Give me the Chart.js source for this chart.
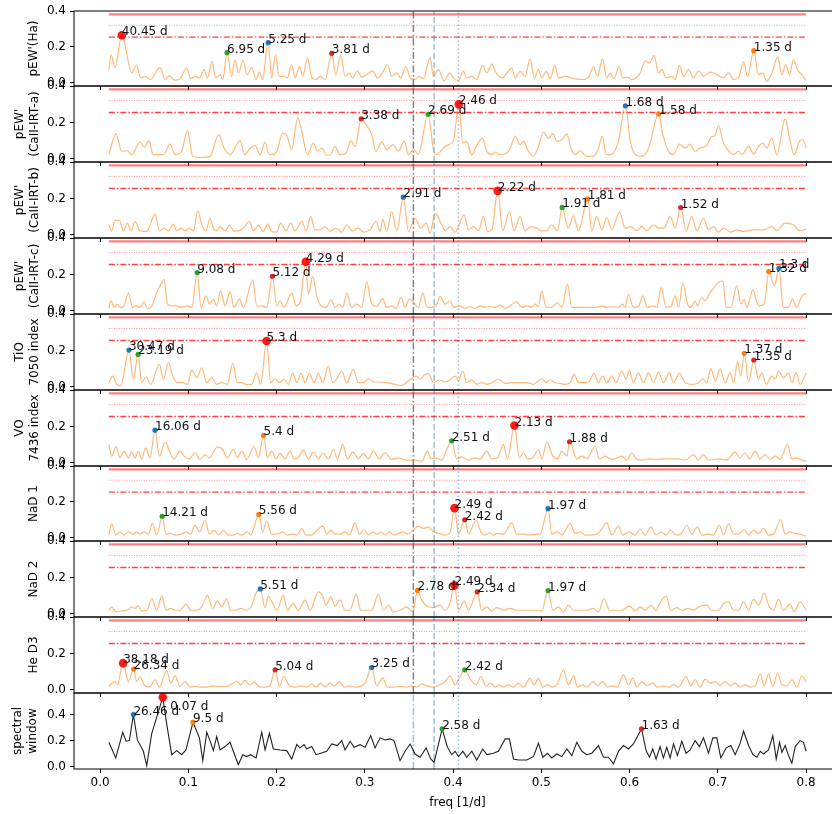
<!DOCTYPE html>
<html>
<head>
<meta charset="utf-8">
<script src="https://cdn.jsdelivr.net/npm/chart.js@4.4.1/dist/chart.umd.min.js"></script>
<style>
html, body { margin: 0; padding: 0; background: #fff; overflow: hidden; }
#fig { position: relative; width: 832px; height: 814px; overflow: hidden; }
#fig canvas { position: absolute; left: 0; }
</style>
</head>
<body>
<div id="fig"></div>
<script>
// periodograms, [freq (1/d), power]
const haPower = [[0.01,0.072],[0.0125,0.155],[0.017,0.085],[0.0247,0.266],[0.036,0.054],[0.0415,0.1],[0.046,0.026],[0.051,0.035],[0.057,0.017],[0.068,0.085],[0.0737,0.017],[0.0786,0.039],[0.084,0.013],[0.0906,0.02],[0.098,0.081],[0.103,0.022],[0.1076,0.035],[0.1126,0.026],[0.118,0.072],[0.1216,0.026],[0.127,0.118],[0.131,0.026],[0.136,0.044],[0.139,0.017],[0.1439,0.168],[0.149,0.035],[0.153,0.127],[0.1567,0.054],[0.162,0.122],[0.167,0.044],[0.172,0.085],[0.1768,0.017],[0.1805,0.059],[0.184,0.017],[0.1905,0.224],[0.1945,0.026],[0.1987,0.155],[0.203,0.035],[0.2077,0.035],[0.212,0.026],[0.217,0.1],[0.221,0.026],[0.226,0.09],[0.2297,0.035],[0.235,0.137],[0.24,0.026],[0.2448,0.017],[0.25,0.035],[0.255,0.017],[0.2625,0.164],[0.267,0.044],[0.2727,0.155],[0.2776,0.035],[0.2825,0.054],[0.2863,0.026],[0.2916,0.066],[0.2965,0.03],[0.302,0.044],[0.309,0.066],[0.314,0.026],[0.32,0.054],[0.3256,0.1],[0.3305,0.035],[0.336,0.054],[0.3407,0.026],[0.3464,0.09],[0.352,0.022],[0.357,0.017],[0.3618,0.035],[0.3664,0.022],[0.374,0.14],[0.3777,0.035],[0.3834,0.072],[0.3898,0.009],[0.396,0.054],[0.4004,0.026],[0.406,0.011],[0.4117,0.063],[0.4155,0.026],[0.421,0.035],[0.4266,0.017],[0.4336,0.096],[0.4382,0.054],[0.444,0.103],[0.4478,0.063],[0.4515,0.035],[0.4563,0.026],[0.461,0.054],[0.4668,0.081],[0.4702,0.026],[0.476,0.063],[0.4816,0.035],[0.4872,0.133],[0.4922,0.026],[0.4967,0.072],[0.5005,0.026],[0.5054,0.063],[0.5102,0.022],[0.515,0.096],[0.5196,0.026],[0.5272,0.035],[0.5363,0.022],[0.5477,0.017],[0.554,0.035],[0.5591,0.09],[0.5636,0.035],[0.5692,0.133],[0.5741,0.026],[0.5779,0.054],[0.5824,0.022],[0.5881,0.09],[0.5922,0.026],[0.5975,0.03],[0.6025,0.017],[0.612,0.054],[0.6176,0.122],[0.6225,0.109],[0.6278,0.151],[0.6327,0.054],[0.6365,0.072],[0.6414,0.026],[0.6478,0.035],[0.6516,0.017],[0.6565,0.096],[0.6611,0.035],[0.6667,0.072],[0.6724,0.026],[0.6781,0.066],[0.6838,0.035],[0.6913,0.059],[0.6989,0.044],[0.7064,0.026],[0.7121,0.054],[0.7178,0.017],[0.7234,0.026],[0.7291,0.118],[0.7336,0.035],[0.7407,0.179],[0.7459,0.044],[0.7509,0.054],[0.7554,0.007],[0.761,0.05],[0.7679,0.146],[0.7724,0.044],[0.777,0.1],[0.7811,0.044],[0.7856,0.127],[0.7902,0.072],[0.795,0.044],[0.8,0.011]];
const irtAPower = [[0.01,0.021],[0.018,0.136],[0.0246,0.04],[0.031,0.043],[0.036,0.021],[0.0453,0.091],[0.05,0.062],[0.0555,0.099],[0.06,0.021],[0.066,0.021],[0.0718,0.021],[0.0793,0.08],[0.085,0.021],[0.0925,0.04],[0.099,0.156],[0.105,0.012],[0.1133,0.006],[0.1246,0.012],[0.1345,0.132],[0.1405,0.058],[0.1473,0.021],[0.1586,0.099],[0.164,0.021],[0.17,0.058],[0.1756,0.073],[0.1813,0.021],[0.187,0.091],[0.1907,0.03],[0.1945,0.021],[0.2,0.035],[0.207,0.141],[0.2115,0.128],[0.217,0.049],[0.224,0.224],[0.2285,0.15],[0.235,0.021],[0.2417,0.086],[0.2463,0.04],[0.2512,0.058],[0.256,0.021],[0.2606,0.018],[0.2663,0.067],[0.272,0.021],[0.2787,0.03],[0.284,0.099],[0.289,0.067],[0.2959,0.22],[0.3014,0.187],[0.3078,0.132],[0.3127,0.04],[0.3192,0.091],[0.3248,0.049],[0.3316,0.077],[0.338,0.04],[0.3449,0.095],[0.3494,0.021],[0.355,0.049],[0.3607,0.025],[0.3717,0.245],[0.3777,0.049],[0.3815,0.021],[0.389,0.058],[0.3947,0.077],[0.4004,0.099],[0.4065,0.3],[0.411,0.086],[0.4155,0.095],[0.421,0.021],[0.4274,0.077],[0.4332,0.113],[0.4382,0.04],[0.444,0.021],[0.4478,0.036],[0.4525,0.021],[0.461,0.03],[0.4649,0.058],[0.4702,0.123],[0.476,0.077],[0.4797,0.095],[0.4853,0.04],[0.491,0.012],[0.4967,0.067],[0.5023,0.147],[0.508,0.113],[0.5131,0.136],[0.5175,0.095],[0.5232,0.104],[0.5289,0.136],[0.5334,0.058],[0.5383,0.021],[0.544,0.043],[0.5515,0.012],[0.5591,0.012],[0.5647,0.058],[0.5692,0.123],[0.5734,0.021],[0.5787,0.021],[0.5873,0.095],[0.5952,0.292],[0.6008,0.095],[0.6065,0.021],[0.6141,0.012],[0.6216,0.058],[0.6329,0.247],[0.6376,0.132],[0.6441,0.04],[0.6497,0.021],[0.6565,0.08],[0.663,0.058],[0.6686,0.08],[0.6742,0.04],[0.6799,0.058],[0.6875,0.073],[0.6931,0.123],[0.6962,0.123],[0.7006,0.183],[0.7064,0.086],[0.7121,0.043],[0.7178,0.021],[0.7234,0.04],[0.7272,0.021],[0.7348,0.067],[0.7404,0.025],[0.7461,0.067],[0.7509,0.086],[0.7554,0.058],[0.7611,0.113],[0.7668,0.021],[0.7762,0.22],[0.7819,0.095],[0.7864,0.021],[0.7924,0.095],[0.7962,0.104],[0.8,0.058]];
const irtBPower = [[0.01,0.054],[0.0132,0.02],[0.017,0.078],[0.0219,0.078],[0.0264,0.02],[0.031,0.063],[0.0351,0.02],[0.0397,0.072],[0.0453,0.02],[0.0529,0.017],[0.0623,0.113],[0.0672,0.02],[0.0729,0.035],[0.0774,0.02],[0.0831,0.057],[0.0869,0.02],[0.0925,0.035],[0.0963,0.02],[0.1012,0.035],[0.1058,0.02],[0.1107,0.131],[0.1152,0.054],[0.1201,0.02],[0.1246,0.09],[0.1284,0.035],[0.1322,0.02],[0.136,0.044],[0.1416,0.02],[0.1466,0.05],[0.1518,0.02],[0.157,0.02],[0.1624,0.035],[0.1692,0.072],[0.1737,0.02],[0.1794,0.05],[0.1851,0.017],[0.19,0.057],[0.1945,0.017],[0.2,0.013],[0.2047,0.063],[0.2108,0.02],[0.216,0.063],[0.221,0.02],[0.2285,0.072],[0.2334,0.02],[0.2387,0.1],[0.2436,0.026],[0.2493,0.026],[0.255,0.044],[0.2606,0.017],[0.2674,0.035],[0.2738,0.013],[0.2795,0.054],[0.2863,0.02],[0.2927,0.035],[0.2984,0.013],[0.306,0.026],[0.3127,0.072],[0.3173,0.017],[0.3203,0.087],[0.3248,0.017],[0.3305,0.127],[0.3362,0.02],[0.3436,0.207],[0.3494,0.017],[0.3569,0.09],[0.3633,0.035],[0.3694,0.063],[0.374,0.007],[0.3796,0.118],[0.3872,0.054],[0.391,0.02],[0.3966,0.044],[0.4023,0.013],[0.4125,0.109],[0.4174,0.026],[0.4231,0.044],[0.4287,0.02],[0.4344,0.1],[0.439,0.017],[0.444,0.026],[0.4505,0.242],[0.4563,0.02],[0.4638,0.127],[0.4691,0.02],[0.4759,0.1],[0.4816,0.02],[0.488,0.044],[0.4948,0.035],[0.5005,0.02],[0.5062,0.02],[0.5118,0.054],[0.5182,0.02],[0.5236,0.15],[0.5306,0.035],[0.5363,0.105],[0.542,0.02],[0.5525,0.197],[0.5572,0.02],[0.5628,0.1],[0.5685,0.026],[0.5741,0.094],[0.5798,0.026],[0.5885,0.124],[0.5949,0.035],[0.6013,0.044],[0.6081,0.02],[0.6138,0.044],[0.6194,0.02],[0.627,0.054],[0.6327,0.035],[0.6391,0.035],[0.6459,0.1],[0.6515,0.035],[0.6579,0.149],[0.664,0.02],[0.6704,0.1],[0.6761,0.02],[0.6837,0.09],[0.6894,0.026],[0.6951,0.044],[0.7006,0.013],[0.7064,0.035],[0.714,0.013],[0.7215,0.026],[0.7291,0.017],[0.7404,0.026],[0.7518,0.026],[0.7611,0.044],[0.7668,0.02],[0.7762,0.063],[0.7856,0.054],[0.7924,0.02],[0.8,0.03]];
const irtCPower = [[0.01,0.011],[0.0125,0.054],[0.0159,0.017],[0.0196,0.035],[0.0234,0.017],[0.0272,0.026],[0.0321,0.096],[0.037,0.017],[0.0408,0.026],[0.0453,0.017],[0.0499,0.048],[0.0536,0.011],[0.0585,0.022],[0.0634,0.09],[0.068,0.137],[0.0725,0.173],[0.0763,0.035],[0.0812,0.026],[0.0869,0.026],[0.0925,0.017],[0.0982,0.026],[0.1039,0.017],[0.1101,0.21],[0.1144,0.017],[0.1201,0.081],[0.1239,0.035],[0.1284,0.063],[0.1322,0.026],[0.1367,0.109],[0.1416,0.026],[0.1473,0.103],[0.1518,0.017],[0.1579,0.063],[0.1624,0.017],[0.173,0.17],[0.1775,0.026],[0.1832,0.026],[0.1889,0.017],[0.1953,0.19],[0.2002,0.026],[0.204,0.054],[0.2085,0.017],[0.2172,0.096],[0.2221,0.026],[0.2266,0.044],[0.2331,0.27],[0.2361,0.09],[0.241,0.188],[0.2455,0.081],[0.2512,0.022],[0.2561,0.017],[0.2618,0.059],[0.2663,0.017],[0.2712,0.035],[0.275,0.017],[0.2795,0.096],[0.2852,0.017],[0.2908,0.035],[0.2965,0.017],[0.3022,0.159],[0.3078,0.035],[0.3135,0.022],[0.3203,0.066],[0.3248,0.017],[0.3305,0.026],[0.3354,0.011],[0.3411,0.072],[0.3456,0.017],[0.3505,0.063],[0.355,0.044],[0.3607,0.017],[0.3656,0.096],[0.3709,0.017],[0.3758,0.017],[0.3815,0.035],[0.3853,0.078],[0.391,0.035],[0.3966,0.054],[0.4011,0.017],[0.4072,0.026],[0.4136,0.011],[0.4193,0.022],[0.4249,0.011],[0.4306,0.026],[0.4363,0.017],[0.4419,0.022],[0.4476,0.017],[0.4533,0.03],[0.459,0.011],[0.4646,0.026],[0.4721,0.048],[0.4778,0.017],[0.4835,0.026],[0.4891,0.017],[0.4929,0.035],[0.4967,0.022],[0.5005,0.109],[0.5054,0.017],[0.5118,0.017],[0.5182,0.044],[0.5232,0.017],[0.5296,0.146],[0.5345,0.017],[0.544,0.017],[0.5553,0.017],[0.5628,0.017],[0.5685,0.026],[0.5741,0.017],[0.5817,0.022],[0.5873,0.017],[0.5922,0.035],[0.5949,0.017],[0.5987,0.09],[0.6043,0.017],[0.61,0.022],[0.6149,0.081],[0.6202,0.017],[0.627,0.026],[0.6308,0.017],[0.6357,0.127],[0.6414,0.017],[0.6471,0.022],[0.6516,0.081],[0.6554,0.017],[0.6603,0.151],[0.6656,0.035],[0.6694,0.017],[0.6742,0.054],[0.6769,0.026],[0.6818,0.072],[0.6856,0.054],[0.6913,0.1],[0.6958,0.127],[0.7006,0.155],[0.7056,0.164],[0.7094,0.017],[0.7147,0.017],[0.7215,0.137],[0.726,0.035],[0.7298,0.063],[0.7329,0.017],[0.7397,0.114],[0.7442,0.044],[0.7472,0.026],[0.7525,0.035],[0.7576,0.216],[0.7641,0.137],[0.7692,0.234],[0.7741,0.017],[0.7798,0.017],[0.7847,0.063],[0.7894,0.017],[0.795,0.078],[0.8,0.096]];
const tioPower = [[0.01,0.021],[0.0144,0.058],[0.0189,0.012],[0.0234,0.006],[0.0328,0.202],[0.0378,0.04],[0.0431,0.178],[0.0472,0.021],[0.0521,0.054],[0.0574,0.012],[0.0672,0.123],[0.0718,0.04],[0.0774,0.132],[0.0831,0.049],[0.0888,0.021],[0.0937,0.021],[0.099,0.012],[0.1039,0.091],[0.1095,0.049],[0.1152,0.104],[0.1209,0.021],[0.1265,0.049],[0.1322,0.012],[0.1379,0.021],[0.1443,0.012],[0.1503,0.128],[0.1556,0.021],[0.1605,0.021],[0.1654,0.012],[0.1719,0.012],[0.1775,0.076],[0.182,0.012],[0.1887,0.252],[0.1934,0.021],[0.1983,0.043],[0.2032,0.021],[0.2085,0.04],[0.2134,0.012],[0.2183,0.076],[0.2229,0.021],[0.2278,0.073],[0.2323,0.021],[0.2372,0.073],[0.2425,0.021],[0.2474,0.073],[0.2523,0.021],[0.2587,0.113],[0.2636,0.021],[0.2689,0.049],[0.2738,0.086],[0.2795,0.021],[0.2871,0.095],[0.2927,0.021],[0.2984,0.021],[0.3041,0.043],[0.3097,0.025],[0.3173,0.025],[0.3248,0.021],[0.3343,0.012],[0.3418,0.006],[0.3505,0.036],[0.3581,0.058],[0.3633,0.04],[0.3671,0.062],[0.3721,0.073],[0.3777,0.021],[0.3845,0.036],[0.391,0.025],[0.3966,0.036],[0.4023,0.058],[0.4061,0.03],[0.411,0.086],[0.4155,0.021],[0.4212,0.036],[0.4268,0.012],[0.4325,0.021],[0.4382,0.012],[0.4438,0.021],[0.4513,0.04],[0.459,0.017],[0.4665,0.021],[0.476,0.021],[0.4835,0.021],[0.491,0.012],[0.5005,0.043],[0.5054,0.021],[0.5099,0.036],[0.5156,0.021],[0.5213,0.017],[0.5269,0.012],[0.5326,0.021],[0.5372,0.067],[0.5421,0.021],[0.5477,0.021],[0.5534,0.025],[0.5598,0.073],[0.5647,0.021],[0.5696,0.058],[0.5741,0.021],[0.5798,0.058],[0.5847,0.021],[0.5911,0.086],[0.5961,0.04],[0.5998,0.091],[0.6043,0.021],[0.61,0.076],[0.6157,0.021],[0.6213,0.076],[0.627,0.021],[0.6327,0.08],[0.6384,0.021],[0.6452,0.076],[0.6497,0.021],[0.6565,0.073],[0.663,0.021],[0.6716,0.012],[0.6781,0.021],[0.6829,0.043],[0.6875,0.021],[0.692,0.099],[0.697,0.03],[0.7025,0.099],[0.7083,0.021],[0.714,0.076],[0.7178,0.021],[0.7223,0.136],[0.726,0.058],[0.7299,0.184],[0.7348,0.025],[0.7407,0.147],[0.746,0.04],[0.7498,0.076],[0.7547,0.012],[0.7611,0.058],[0.7649,0.04],[0.7687,0.086],[0.7744,0.049],[0.7801,0.076],[0.7838,0.021],[0.7887,0.076],[0.7932,0.012],[0.8,0.076]];
const voPower = [[0.01,0.1],[0.0132,0.035],[0.0181,0.087],[0.0227,0.026],[0.0272,0.063],[0.0321,0.026],[0.0359,0.057],[0.0397,0.026],[0.0434,0.063],[0.0472,0.02],[0.0517,0.081],[0.0567,0.026],[0.0623,0.179],[0.0672,0.035],[0.0737,0.113],[0.0793,0.054],[0.0839,0.02],[0.0906,0.063],[0.0952,0.035],[0.1012,0.02],[0.1076,0.054],[0.1133,0.017],[0.119,0.044],[0.1239,0.026],[0.133,0.087],[0.139,0.072],[0.1443,0.026],[0.1511,0.072],[0.1556,0.026],[0.1605,0.063],[0.1662,0.017],[0.1745,0.09],[0.1794,0.026],[0.1852,0.15],[0.1896,0.026],[0.1945,0.063],[0.1994,0.02],[0.204,0.05],[0.2096,0.02],[0.2153,0.063],[0.2198,0.02],[0.2247,0.026],[0.2304,0.068],[0.2361,0.02],[0.2417,0.057],[0.2474,0.02],[0.2523,0.054],[0.2587,0.02],[0.2644,0.072],[0.2689,0.02],[0.275,0.1],[0.2803,0.02],[0.2863,0.057],[0.2927,0.02],[0.2984,0.05],[0.3041,0.02],[0.3097,0.063],[0.3165,0.02],[0.323,0.054],[0.3305,0.017],[0.338,0.026],[0.3475,0.013],[0.3569,0.013],[0.3645,0.007],[0.3709,0.063],[0.3747,0.02],[0.3807,0.026],[0.3872,0.013],[0.3928,0.072],[0.3984,0.12],[0.4042,0.02],[0.4098,0.031],[0.4174,0.013],[0.4249,0.026],[0.4306,0.02],[0.4382,0.063],[0.4438,0.02],[0.4502,0.026],[0.457,0.1],[0.4615,0.02],[0.4695,0.205],[0.4751,0.026],[0.4797,0.054],[0.4842,0.02],[0.4903,0.026],[0.4967,0.072],[0.5005,0.02],[0.5062,0.113],[0.5131,0.035],[0.5182,0.02],[0.5232,0.063],[0.5289,0.035],[0.532,0.115],[0.5402,0.02],[0.5459,0.035],[0.5515,0.02],[0.561,0.09],[0.5659,0.02],[0.5723,0.035],[0.5787,0.017],[0.5836,0.02],[0.5911,0.035],[0.5968,0.013],[0.6025,0.054],[0.6081,0.017],[0.6157,0.013],[0.6213,0.02],[0.6308,0.017],[0.6403,0.02],[0.6478,0.02],[0.6554,0.02],[0.663,0.013],[0.6724,0.044],[0.6781,0.013],[0.6837,0.044],[0.6894,0.013],[0.6951,0.017],[0.7025,0.02],[0.71,0.013],[0.7195,0.057],[0.7253,0.026],[0.7309,0.054],[0.7358,0.02],[0.7423,0.063],[0.748,0.02],[0.7536,0.044],[0.7593,0.017],[0.7649,0.035],[0.7706,0.017],[0.7789,0.1],[0.7838,0.02],[0.7894,0.026],[0.795,0.013],[0.8,0.007]];
const nad1Power = [[0.01,0.014],[0.0132,0.075],[0.0181,0.014],[0.0227,0.032],[0.0272,0.014],[0.0321,0.032],[0.037,0.019],[0.0415,0.032],[0.0453,0.019],[0.0499,0.032],[0.0548,0.019],[0.0593,0.079],[0.0642,0.014],[0.0704,0.119],[0.0748,0.019],[0.0801,0.023],[0.085,0.014],[0.0925,0.019],[0.0974,0.032],[0.1027,0.019],[0.1076,0.07],[0.1126,0.032],[0.119,0.097],[0.1239,0.019],[0.1292,0.042],[0.1341,0.014],[0.1398,0.042],[0.1454,0.014],[0.1511,0.014],[0.1556,0.023],[0.1605,0.014],[0.1669,0.032],[0.1707,0.014],[0.1799,0.13],[0.1843,0.032],[0.1889,0.093],[0.1945,0.019],[0.2009,0.019],[0.207,0.032],[0.2123,0.014],[0.2183,0.019],[0.2229,0.014],[0.2285,0.051],[0.2334,0.014],[0.2398,0.014],[0.2463,0.042],[0.2523,0.064],[0.2568,0.019],[0.2618,0.042],[0.2663,0.019],[0.272,0.019],[0.2776,0.032],[0.2825,0.014],[0.2889,0.082],[0.2938,0.019],[0.2991,0.045],[0.3041,0.014],[0.309,0.032],[0.3135,0.019],[0.318,0.032],[0.323,0.014],[0.3279,0.032],[0.3324,0.014],[0.338,0.023],[0.3437,0.032],[0.3483,0.019],[0.355,0.042],[0.3607,0.064],[0.3664,0.051],[0.372,0.06],[0.3777,0.032],[0.3845,0.023],[0.391,0.014],[0.3966,0.03],[0.4016,0.165],[0.4061,0.019],[0.4132,0.1],[0.4174,0.019],[0.4261,0.097],[0.4314,0.032],[0.4363,0.014],[0.4412,0.027],[0.4457,0.014],[0.4502,0.023],[0.457,0.019],[0.4665,0.082],[0.4721,0.019],[0.4797,0.019],[0.4872,0.014],[0.4948,0.019],[0.4986,0.019],[0.5076,0.162],[0.5118,0.019],[0.5182,0.032],[0.5232,0.014],[0.5326,0.078],[0.5383,0.023],[0.544,0.032],[0.5496,0.014],[0.5553,0.014],[0.5628,0.019],[0.5674,0.042],[0.5741,0.082],[0.5798,0.014],[0.5873,0.064],[0.5922,0.014],[0.5998,0.032],[0.6062,0.014],[0.6119,0.045],[0.6176,0.014],[0.6239,0.06],[0.63,0.014],[0.6353,0.032],[0.6414,0.014],[0.6467,0.042],[0.6527,0.014],[0.658,0.019],[0.6648,0.069],[0.6705,0.019],[0.6769,0.06],[0.6818,0.014],[0.6894,0.019],[0.6951,0.014],[0.7017,0.069],[0.7064,0.014],[0.7121,0.078],[0.7178,0.019],[0.7234,0.019],[0.7298,0.045],[0.7348,0.014],[0.7404,0.042],[0.7461,0.023],[0.7518,0.051],[0.7574,0.014],[0.763,0.019],[0.7713,0.1],[0.7762,0.019],[0.7819,0.032],[0.7875,0.023],[0.7932,0.019],[0.8,0.008]];
const nad2Power = [[0.01,0.015],[0.0132,0.037],[0.0181,0.009],[0.0264,0.015],[0.0321,0.022],[0.0359,0.037],[0.0397,0.028],[0.0434,0.041],[0.0472,0.015],[0.0529,0.018],[0.0585,0.083],[0.0642,0.018],[0.0699,0.096],[0.0748,0.018],[0.0801,0.028],[0.085,0.018],[0.0906,0.018],[0.0974,0.052],[0.1027,0.018],[0.1095,0.018],[0.1152,0.037],[0.1216,0.1],[0.1277,0.028],[0.133,0.07],[0.1379,0.037],[0.1435,0.083],[0.1481,0.018],[0.1541,0.018],[0.1594,0.028],[0.1654,0.018],[0.1707,0.033],[0.1775,0.12],[0.1815,0.136],[0.1869,0.033],[0.1907,0.096],[0.1957,0.055],[0.2002,0.018],[0.2077,0.1],[0.2123,0.018],[0.219,0.055],[0.2247,0.018],[0.2323,0.074],[0.238,0.018],[0.2474,0.12],[0.2523,0.096],[0.2561,0.046],[0.2614,0.092],[0.2663,0.041],[0.272,0.074],[0.2776,0.018],[0.2833,0.018],[0.2901,0.107],[0.2954,0.018],[0.3022,0.018],[0.3078,0.018],[0.3154,0.107],[0.3211,0.018],[0.3267,0.046],[0.3324,0.009],[0.3399,0.018],[0.3475,0.037],[0.3543,0.009],[0.3597,0.128],[0.3645,0.074],[0.372,0.037],[0.3777,0.033],[0.3853,0.046],[0.391,0.018],[0.3966,0.06],[0.4016,0.157],[0.4061,0.018],[0.4125,0.07],[0.4174,0.018],[0.4274,0.12],[0.4325,0.018],[0.4382,0.037],[0.4438,0.015],[0.4495,0.033],[0.457,0.018],[0.4646,0.028],[0.4721,0.018],[0.4835,0.018],[0.4948,0.018],[0.5005,0.015],[0.5076,0.127],[0.5131,0.018],[0.5194,0.037],[0.5251,0.009],[0.5307,0.046],[0.5364,0.018],[0.544,0.018],[0.5515,0.018],[0.5583,0.028],[0.5647,0.009],[0.5711,0.083],[0.5772,0.018],[0.5836,0.018],[0.5911,0.018],[0.5998,0.041],[0.6062,0.015],[0.6119,0.037],[0.6176,0.018],[0.6239,0.046],[0.63,0.018],[0.6345,0.059],[0.6414,0.096],[0.6467,0.018],[0.6535,0.033],[0.6591,0.018],[0.6667,0.028],[0.6724,0.018],[0.6799,0.041],[0.6875,0.046],[0.6931,0.018],[0.7006,0.018],[0.7064,0.055],[0.7121,0.064],[0.7178,0.018],[0.7234,0.018],[0.7291,0.064],[0.7348,0.018],[0.7404,0.078],[0.7461,0.046],[0.7525,0.114],[0.7574,0.046],[0.763,0.018],[0.7687,0.078],[0.7744,0.018],[0.7819,0.052],[0.7864,0.009],[0.7932,0.065],[0.8,0.018]];
const hed3Power = [[0.01,0.017],[0.0132,0.035],[0.017,0.044],[0.0196,0.026],[0.0262,0.146],[0.0321,0.044],[0.038,0.113],[0.0415,0.044],[0.0453,0.072],[0.0499,0.026],[0.0559,0.013],[0.0623,0.054],[0.0672,0.013],[0.0755,0.105],[0.0801,0.035],[0.085,0.076],[0.0906,0.017],[0.0963,0.044],[0.102,0.013],[0.1076,0.017],[0.1133,0.013],[0.1209,0.013],[0.1284,0.02],[0.136,0.017],[0.1435,0.017],[0.1492,0.031],[0.1549,0.044],[0.1594,0.026],[0.1643,0.05],[0.1692,0.026],[0.1745,0.039],[0.1813,0.013],[0.1889,0.013],[0.1926,0.02],[0.1984,0.109],[0.2032,0.02],[0.2085,0.072],[0.2145,0.02],[0.221,0.013],[0.2285,0.02],[0.2342,0.013],[0.2398,0.031],[0.2448,0.013],[0.25,0.035],[0.255,0.013],[0.2606,0.035],[0.2655,0.02],[0.2712,0.044],[0.2765,0.013],[0.2833,0.02],[0.2889,0.013],[0.2946,0.017],[0.3003,0.035],[0.3077,0.122],[0.3135,0.02],[0.3203,0.063],[0.3256,0.013],[0.3324,0.013],[0.3399,0.017],[0.3475,0.013],[0.3532,0.02],[0.359,0.013],[0.3645,0.031],[0.3701,0.02],[0.3777,0.013],[0.3845,0.026],[0.391,0.044],[0.3966,0.076],[0.4023,0.026],[0.4061,0.054],[0.4132,0.109],[0.42,0.054],[0.4261,0.026],[0.4314,0.072],[0.4374,0.02],[0.4427,0.035],[0.4476,0.013],[0.4525,0.026],[0.457,0.013],[0.4627,0.026],[0.4684,0.013],[0.474,0.035],[0.4797,0.013],[0.4872,0.063],[0.4918,0.026],[0.4967,0.063],[0.5016,0.013],[0.5069,0.026],[0.5131,0.013],[0.5182,0.031],[0.5251,0.109],[0.5307,0.026],[0.5364,0.076],[0.5409,0.013],[0.5469,0.026],[0.5515,0.013],[0.5583,0.044],[0.5636,0.02],[0.5696,0.044],[0.5749,0.013],[0.5798,0.02],[0.5862,0.013],[0.593,0.081],[0.5987,0.026],[0.6036,0.063],[0.6081,0.013],[0.6138,0.044],[0.6194,0.02],[0.6262,0.035],[0.6315,0.013],[0.6376,0.02],[0.6441,0.013],[0.6497,0.026],[0.6554,0.013],[0.664,0.072],[0.6694,0.02],[0.6742,0.054],[0.6799,0.013],[0.6856,0.057],[0.6913,0.035],[0.6968,0.044],[0.7025,0.02],[0.7083,0.044],[0.714,0.02],[0.7196,0.035],[0.7253,0.013],[0.7309,0.026],[0.7366,0.013],[0.7423,0.02],[0.748,0.087],[0.7525,0.02],[0.7574,0.087],[0.7623,0.017],[0.7676,0.09],[0.7725,0.026],[0.7781,0.02],[0.7838,0.054],[0.7894,0.013],[0.795,0.076],[0.8,0.044]];
const windowPower = [[0.01,0.187],[0.0178,0.067],[0.0257,0.264],[0.0295,0.195],[0.0332,0.2],[0.0378,0.4],[0.0423,0.205],[0.0491,0.118],[0.0529,0.008],[0.0585,0.251],[0.0642,0.38],[0.0711,0.533],[0.0755,0.328],[0.0812,0.092],[0.0869,0.123],[0.0925,0.092],[0.0974,0.128],[0.1053,0.341],[0.1126,0.221],[0.1164,0.046],[0.1209,0.264],[0.1246,0.2],[0.1284,0.123],[0.1322,0.231],[0.136,0.128],[0.1416,0.154],[0.1473,0.187],[0.1567,0.015],[0.1616,0.092],[0.1662,0.077],[0.1707,0.092],[0.1768,0.067],[0.1832,0.264],[0.187,0.128],[0.1919,0.256],[0.1964,0.136],[0.204,0.128],[0.2115,0.123],[0.2172,0.059],[0.2229,0.169],[0.2266,0.144],[0.2312,0.169],[0.2342,0.136],[0.2398,0.154],[0.2448,0.092],[0.25,0.103],[0.2568,0.118],[0.2625,0.174],[0.2689,0.162],[0.2738,0.2],[0.2776,0.128],[0.2833,0.195],[0.2878,0.149],[0.2946,0.169],[0.3003,0.149],[0.3067,0.238],[0.3116,0.144],[0.3173,0.221],[0.323,0.205],[0.3286,0.213],[0.3331,0.2],[0.3399,0.046],[0.3456,0.118],[0.3513,0.174],[0.3569,0.097],[0.3626,0.072],[0.3694,0.144],[0.3747,0.059],[0.3785,0.033],[0.3876,0.29],[0.3936,0.149],[0.3985,0.092],[0.4023,0.118],[0.4061,0.077],[0.411,0.118],[0.4155,0.072],[0.4212,0.118],[0.4268,0.051],[0.4336,0.136],[0.4382,0.092],[0.4457,0.103],[0.4513,0.118],[0.459,0.213],[0.4638,0.213],[0.4684,0.059],[0.474,0.051],[0.4835,0.051],[0.491,0.077],[0.4967,0.18],[0.5016,0.072],[0.5069,0.103],[0.5118,0.067],[0.5175,0.097],[0.5232,0.077],[0.5289,0.136],[0.5345,0.085],[0.5402,0.187],[0.5459,0.118],[0.5515,0.092],[0.5572,0.103],[0.5647,0.162],[0.5704,0.072],[0.576,0.072],[0.5817,0.021],[0.5873,0.118],[0.593,0.162],[0.5987,0.136],[0.6043,0.174],[0.6135,0.29],[0.6187,0.123],[0.6225,0.072],[0.6262,0.136],[0.63,0.059],[0.6345,0.154],[0.6383,0.067],[0.6421,0.149],[0.6459,0.067],[0.6497,0.174],[0.6542,0.085],[0.6591,0.195],[0.664,0.103],[0.6686,0.128],[0.6742,0.2],[0.6791,0.154],[0.6837,0.221],[0.6894,0.103],[0.6943,0.221],[0.6988,0.221],[0.7033,0.067],[0.7094,0.144],[0.7147,0.162],[0.7196,0.092],[0.7253,0.18],[0.7291,0.272],[0.7348,0.162],[0.7397,0.092],[0.7442,0.072],[0.748,0.118],[0.7518,0.097],[0.7574,0.128],[0.7623,0.238],[0.7661,0.059],[0.7699,0.187],[0.7725,0.11],[0.7763,0.162],[0.78,0.085],[0.7838,0.026],[0.7876,0.154],[0.7932,0.2],[0.797,0.187],[0.8,0.118]];

// five highest peaks per panel, highest first: [freq, power, label, (label freq, label power)]
const haPeaks = [[0.0247,0.266,'40.45 d'],[0.1905,0.224,'5.25 d'],[0.7407,0.179,'1.35 d'],[0.1439,0.168,'6.95 d'],[0.2625,0.164,'3.81 d']];
const irtAPeaks = [[0.4065,0.3,'2.46 d'],[0.5952,0.292,'1.68 d'],[0.6329,0.247,'1.58 d'],[0.3717,0.245,'2.69 d'],[0.2959,0.22,'3.38 d']];
const irtBPeaks = [[0.4505,0.242,'2.22 d'],[0.3436,0.207,'2.91 d'],[0.5525,0.197,'1.81 d'],[0.5236,0.15,'1.91 d'],[0.6579,0.149,'1.52 d']];
const irtCPeaks = [[0.2331,0.27,'4.29 d'],[0.7692,0.234,'1.3 d'],[0.7576,0.216,'1.32 d'],[0.1101,0.21,'9.08 d'],[0.1953,0.19,'5.12 d']];
const tioPeaks = [[0.1887,0.252,'5.3 d'],[0.0328,0.202,'30.47 d'],[0.7299,0.184,'1.37 d'],[0.0431,0.178,'23.19 d'],[0.7407,0.147,'1.35 d']];
const voPeaks = [[0.4695,0.205,'2.13 d'],[0.0623,0.179,'16.06 d'],[0.1852,0.15,'5.4 d'],[0.3984,0.12,'2.51 d'],[0.532,0.115,'1.88 d']];
const nad1Peaks = [[0.4016,0.165,'2.49 d'],[0.5076,0.162,'1.97 d'],[0.1799,0.13,'5.56 d'],[0.0704,0.119,'14.21 d'],[0.4132,0.1,'2.42 d']];
const nad2Peaks = [[0.4016,0.157,'2.49 d'],[0.1815,0.136,'5.51 d'],[0.3597,0.128,'2.78 d'],[0.5076,0.127,'1.97 d'],[0.4274,0.12,'2.34 d']];
const hed3Peaks = [[0.0262,0.146,'38.18 d'],[0.3077,0.122,'3.25 d'],[0.038,0.113,'26.34 d'],[0.4132,0.109,'2.42 d'],[0.1984,0.109,'5.04 d']];
const windowPeaks = [[0.0711,0.533,'0.07 d',0.0795,0.436],[0.0378,0.4,'26.46 d'],[0.1053,0.341,'9.5 d'],[0.3876,0.29,'2.58 d'],[0.6135,0.29,'1.63 d']];

const fapLevels = [0.383, 0.322, 0.255];
const freqRange = [0.01, 0.8];
const rotFreqs = [0.355, 0.3785, 0.406];
const xTicks = [0, 0.1, 0.2, 0.3, 0.4, 0.5, 0.6, 0.7, 0.8];
const yTicks = [0, 0.2, 0.4];
const powerLimits = [-0.0195, 0.402];
const windowLimits = [-0.018, 0.565];
const X_MIN = -0.0295, X_MAX = 0.8395;

const PANEL_TOP = 10.5, PANEL_H = 75.85;
const PLOT_LEFT = 74, PLOT_RIGHT = 841, CANVAS_W = 862;
const FONT = 'DejaVu Sans';
const CURVE = 'rgba(255,127,14,0.55)';
const ROT_BLUE = 'rgba(31,119,180,0.45)';
const ROT_GREY = 'rgba(90,90,90,0.75)';
const peakColors = ['rgba(255,0,0,0.9)', '#1f77b4', '#ff7f0e', '#2ca02c', '#d62728'];
const fapStyles = [
    { color: 'rgba(255,0,0,0.5)', width: 2.2, dash: [] },
    { color: 'rgba(255,0,0,0.45)', width: 1, dash: [1, 1.5] },
    { color: 'rgba(255,0,0,0.75)', width: 1.3, dash: [6, 2, 1.5, 2] }
];
const rotDash = [[7, 2.5, 1.5, 2.5], [6, 3], [1.5, 2.5]];

const panels = [
    { label: "pEW'(Ha)", curve: haPower, peaks: haPeaks },
    { label: ["pEW'", '(CaII-IRT-a)'], curve: irtAPower, peaks: irtAPeaks },
    { label: ["pEW'", '(CaII-IRT-b)'], curve: irtBPower, peaks: irtBPeaks },
    { label: ["pEW'", '(CaII-IRT-c)'], curve: irtCPower, peaks: irtCPeaks },
    { label: ['TiO', '7050 index'], curve: tioPower, peaks: tioPeaks },
    { label: ['VO', '7436 index'], curve: voPower, peaks: voPeaks },
    { label: 'NaD 1', curve: nad1Power, peaks: nad1Peaks },
    { label: 'NaD 2', curve: nad2Power, peaks: nad2Peaks },
    { label: 'He D3', curve: hed3Power, peaks: hed3Peaks },
    { label: ['spectral', 'window'], curve: windowPower, peaks: windowPeaks, isWindow: true }
];

Chart.defaults.font.family = FONT;
Chart.defaults.font.size = 12;
Chart.defaults.color = '#000';

// box around each axes, like matplotlib spines
const framePlugin = {
    id: 'frame',
    afterDraw(chart) {
        const { ctx, chartArea: a } = chart;
        ctx.save();
        ctx.strokeStyle = '#000';
        ctx.lineWidth = 1;
        ctx.strokeRect(a.left, a.top, a.right - a.left, a.bottom - a.top);
        ctx.restore();
    }
};

function peakLabelPlugin(peaks) {
    return {
        id: 'peakLabels',
        afterDatasetsDraw(chart) {
            const { ctx, scales } = chart;
            ctx.save();
            ctx.font = '12px "' + FONT + '"';
            ctx.fillStyle = '#111';
            ctx.textAlign = 'left';
            ctx.textBaseline = 'alphabetic';
            peaks.forEach(pk => {
                const at = pk.length > 3 ? [pk[3], pk[4]] : [pk[0], pk[1]];
                ctx.fillText(pk[2], scales.x.getPixelForValue(at[0]), scales.y.getPixelForValue(at[1]));
            });
            ctx.restore();
        }
    };
}

const fig = document.getElementById('fig');

panels.forEach((p, i) => {
    const last = i === panels.length - 1;
    const top = Math.round(PANEL_TOP + i * PANEL_H);
    const bottom = Math.round(PANEL_TOP + (i + 1) * PANEL_H);
    const padTop = 14;
    const padBottom = last ? 0 : 8;
    const xAxisH = last ? 41 : 5;
    const padLeft = Array.isArray(p.label) ? (p.isWindow ? 11 : 13) : 27;
    const yLim = p.isWindow ? windowLimits : powerLimits;

    const canvas = document.createElement('canvas');
    canvas.width = CANVAS_W;
    canvas.height = padTop + (bottom - top) + xAxisH + padBottom;
    canvas.style.top = (top - padTop) + 'px';
    fig.appendChild(canvas);

    const datasets = [];
    if (!p.isWindow) {
        fapLevels.forEach((lvl, k) => datasets.push({
            data: freqRange.map(x => ({ x, y: lvl })),
            borderColor: fapStyles[k].color,
            borderWidth: fapStyles[k].width,
            borderDash: fapStyles[k].dash,
            pointRadius: 0,
            order: 3
        }));
    }
    rotFreqs.forEach((f, k) => datasets.push({
        data: yLim.map(y => ({ x: f, y })),
        borderColor: (p.isWindow || k > 0) ? ROT_BLUE : ROT_GREY,
        borderWidth: 1.5,
        borderDash: rotDash[k],
        pointRadius: 0,
        order: 2
    }));
    datasets.push({
        data: p.curve.map(([x, y]) => ({ x, y })),
        borderColor: p.isWindow ? '#222' : CURVE,
        borderWidth: p.isWindow ? 1.1 : 1.2,
        pointRadius: 0,
        tension: 0,
        cubicInterpolationMode: p.isWindow ? 'default' : 'monotone',
        order: 1
    });
    datasets.push({
        data: p.peaks.map(pk => ({ x: pk[0], y: pk[1] })),
        showLine: false,
        pointRadius: p.peaks.map((_, k) => k ? 2.6 : 4.3),
        pointBackgroundColor: p.peaks.map((_, k) => peakColors[k]),
        pointBorderWidth: 0,
        order: 0
    });

    new Chart(canvas, {
        type: 'line',
        data: { datasets },
        options: {
            responsive: false,
            animation: false,
            events: [],
            layout: { padding: { left: padLeft, right: CANVAS_W - PLOT_RIGHT, top: padTop, bottom: padBottom } },
            plugins: { legend: { display: false }, tooltip: { enabled: false } },
            scales: {
                x: {
                    type: 'linear',
                    min: X_MIN,
                    max: X_MAX,
                    afterBuildTicks: s => { s.ticks = xTicks.map(v => ({ value: v })); },
                    afterFit: s => { s.height = xAxisH; },
                    ticks: { display: last, autoSkip: false, maxRotation: 0, padding: 3, callback: v => v.toFixed(1) },
                    grid: { drawOnChartArea: false, drawTicks: true, tickLength: 4, color: '#000' },
                    border: { display: false },
                    title: { display: last, text: 'freq [1/d]', padding: { top: 4, bottom: 0 } }
                },
                y: {
                    type: 'linear',
                    min: yLim[0],
                    max: yLim[1],
                    afterBuildTicks: s => { s.ticks = yTicks.map(v => ({ value: v })); },
                    afterFit: s => { s.width = PLOT_LEFT - padLeft; },
                    ticks: { padding: 4, callback: v => v.toFixed(1) },
                    grid: { drawOnChartArea: false, drawTicks: true, tickLength: 4, color: '#000' },
                    border: { display: false },
                    title: { display: true, text: p.label, padding: 0, font: { size: 12, lineHeight: 1.2 } }
                }
            }
        },
        plugins: [peakLabelPlugin(p.peaks), framePlugin]
    });
});
</script>
</body>
</html>
